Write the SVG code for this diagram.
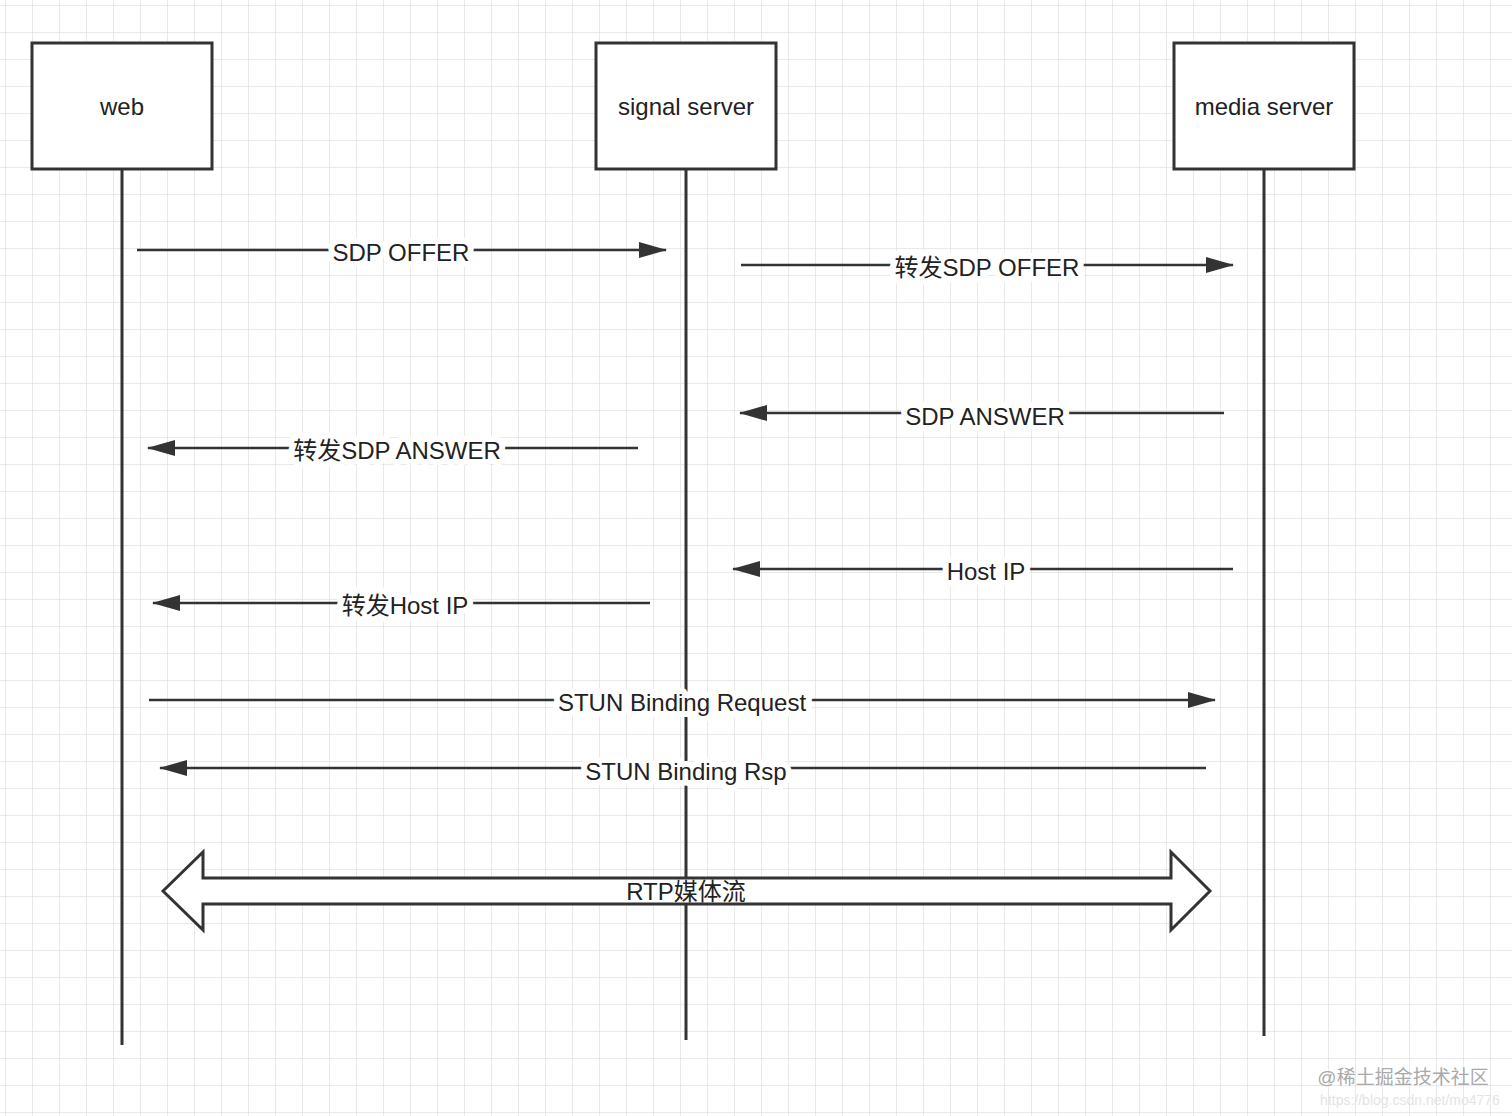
<svg xmlns="http://www.w3.org/2000/svg" width="1512" height="1116" viewBox="0 0 1512 1116">
<defs>
<pattern id="g" x="5" y="5" width="27" height="27" patternUnits="userSpaceOnUse"><path d="M0 0H27M0 0V27" stroke="#e2e2e2" stroke-width="1.5" fill="none"/></pattern>
<marker id="a" viewBox="0 0 28 18" refX="27" refY="9" markerWidth="28" markerHeight="18" markerUnits="userSpaceOnUse" orient="auto"><path d="M0 1L28 9L0 17Z" fill="#333"/></marker>
</defs>
<style>
.box{fill:#fff;stroke:#333;stroke-width:3}
.ll{stroke:#333;stroke-width:3}
.c{stroke:#333;stroke-width:2.5;fill:none;marker-end:url(#a)}
text{font-family:"Liberation Sans","Noto Sans CJK SC",sans-serif;font-size:24px;fill:#222;text-anchor:middle}
.lb{stroke:#fff;stroke-width:12;stroke-linejoin:round;paint-order:stroke}
</style>
<rect width="1512" height="1116" fill="#fff"/>
<rect width="1512" height="1116" fill="url(#g)"/>
<g id="lifelines">
<line class="ll" x1="122" y1="168" x2="122" y2="1045"/>
<line class="ll" x1="686" y1="168" x2="686" y2="1040"/>
<line class="ll" x1="1264" y1="168" x2="1264" y2="1036"/>
</g>
<g id="web"><rect class="box" x="32" y="43" width="180" height="126"/><text x="122" y="115">web</text></g>
<g id="signal"><rect class="box" x="596" y="43" width="180" height="126"/><text x="686" y="115">signal server</text></g>
<g id="media"><rect class="box" x="1174" y="43" width="180" height="126"/><text x="1264" y="115">media server</text></g>
<g id="connectors">
<line class="c" x1="137" y1="250" x2="666" y2="250"/>
<line class="c" x1="741" y1="265" x2="1233" y2="265"/>
<line class="c" x1="1224" y1="413" x2="740" y2="413"/>
<line class="c" x1="638" y1="448" x2="148" y2="448"/>
<line class="c" x1="1233" y1="569" x2="733" y2="569"/>
<line class="c" x1="650" y1="603" x2="153" y2="603"/>
<line class="c" x1="149" y1="700" x2="1215" y2="700"/>
<line class="c" x1="1206" y1="768" x2="160" y2="768"/>
<path d="M163 891L203 852V878H1171V852L1210 891L1171 930V904H203V930Z" fill="#fff" stroke="#333" stroke-width="3"/>
<text class="lb" x="401" y="261">SDP OFFER</text>
<text class="lb" x="987" y="276">转发SDP OFFER</text>
<text class="lb" x="985" y="425">SDP ANSWER</text>
<text class="lb" x="397" y="459">转发SDP ANSWER</text>
<text class="lb" x="986" y="580">Host IP</text>
<text class="lb" x="405" y="614">转发Host IP</text>
<text class="lb" x="682" y="711">STUN Binding Request</text>
<text class="lb" x="686" y="780">STUN Binding Rsp</text>
<text x="686" y="900">RTP媒体流</text>
</g>
<text x="1403" y="1084" style="font-size:19px;fill:#aaa">@稀土掘金技术社区</text>
<text x="1410" y="1105" style="font-size:14px;fill:#e4e4e4">https://blog.csdn.net/mo4776</text>
</svg>
